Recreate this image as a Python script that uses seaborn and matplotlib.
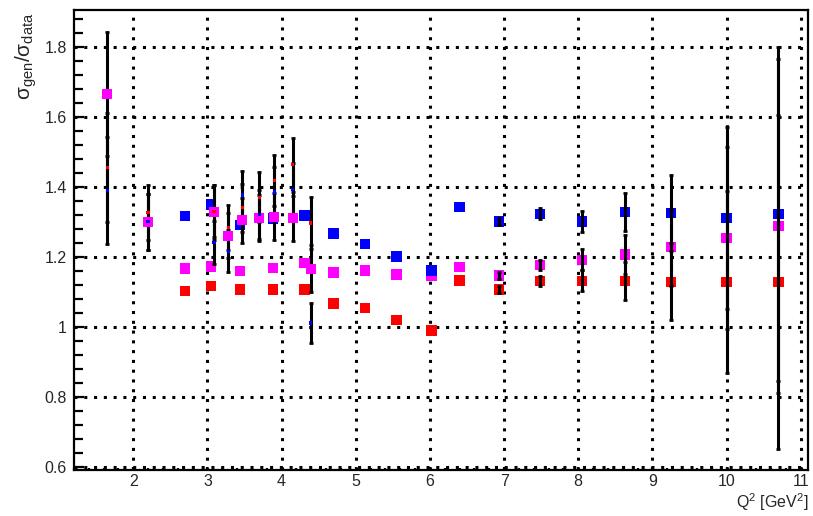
#!/usr/bin/env python3

import matplotlib

matplotlib.use("Agg")
import matplotlib.pyplot as plt
import matplotlib.ticker as ticker
import pandas
import seaborn as sns

# Q2 bins with the three model ratios (large squares)
q2 = [2.70, 3.05, 3.44, 3.88, 4.31, 4.70, 5.12, 5.55, 6.02, 6.40,
      6.93, 7.48, 8.05, 8.63, 9.25, 10.0, 10.70]
ratio_red = [1.103, 1.117, 1.106, 1.106, 1.106, 1.066, 1.053, 1.020, 0.989, 1.132,
             1.106, 1.130, 1.131, 1.130, 1.128, 1.127, 1.127]
ratio_mag = [1.166, 1.172, 1.160, 1.168, 1.183, 1.155, 1.161, 1.149, 1.146, 1.170,
             1.146, 1.177, 1.191, 1.206, 1.227, 1.253, 1.287]
ratio_blue = [1.317, 1.349, 1.291, 1.309, 1.318, 1.266, 1.237, 1.201, 1.161, 1.342,
              1.301, 1.323, 1.301, 1.328, 1.325, 1.310, 1.322]
ratio_err = [0, 0, 0, 0, 0, 0, 0, 0, 0, 0,
             0.010, 0.015, 0.030, 0.055, 0.110, 0.260, 0.478]

# low Q2 points with large errors (small markers)
q2_low = [1.65, 2.20, 3.09, 3.28, 3.47, 3.70, 3.90, 4.15, 4.39]
low_mag = [1.665, 1.298, 1.327, 1.260, 1.304, 1.310, 1.315, 1.310, 1.166]
low_mag_err = [0.178, 0.080, 0.079, 0.065, 0.064, 0.066, 0.066, 0.064, 0.067]
low_red = [1.455, 1.327, 1.330, 1.283, 1.340, 1.370, 1.418, 1.463, 1.296]
low_red_err = [0.157, 0.079, 0.075, 0.064, 0.068, 0.071, 0.073, 0.077, 0.074]
low_blue = [1.390, 1.300, 1.241, 1.215, 1.377, 1.320, 1.385, 1.393, 1.010]
low_blue_err = [0.153, 0.080, 0.062, 0.060, 0.069, 0.070, 0.072, 0.075, 0.057]

colors = {"red": "#ff0000", "magenta": "#ff00ff", "blue": "#0000ff"}


def main():
    sns.set_theme(style="white")
    plt.rcParams["font.family"] = ["Liberation Sans", "DejaVu Sans"]
    plt.rcParams["mathtext.fontset"] = "custom"
    plt.rcParams["mathtext.rm"] = "Liberation Sans"
    plt.rcParams["mathtext.it"] = "Liberation Sans:italic"

    fig = plt.figure(figsize=(8.13, 5.16), dpi=100)
    ax = fig.add_axes([0.091, 0.089, 0.903, 0.892])

    big = pandas.DataFrame({
        "q2": q2 * 3,
        "ratio": ratio_red + ratio_mag + ratio_blue,
        "model": ["red"] * len(q2) + ["magenta"] * len(q2) + ["blue"] * len(q2),
    })
    sns.scatterplot(data=big, x="q2", y="ratio", hue="model", palette=colors,
                    marker="s", s=55, linewidth=0, legend=False, ax=ax, zorder=3)

    # black error bars on top of the squares
    for vals in (ratio_red, ratio_mag, ratio_blue):
        xs = [x for x, e in zip(q2, ratio_err) if e > 0]
        ys = [y for y, e in zip(vals, ratio_err) if e > 0]
        es = [e for e in ratio_err if e > 0]
        ax.errorbar(xs, ys, yerr=es, fmt="none", ecolor="black", elinewidth=2.2,
                    capsize=1.5, capthick=2.0, zorder=4)

    for vals, errs in ((low_red, low_red_err), (low_blue, low_blue_err), (low_mag, low_mag_err)):
        ax.errorbar(q2_low, vals, yerr=errs, fmt="none", ecolor="black",
                    elinewidth=2.2, capsize=1.5, capthick=2.0, zorder=4)

    sns.scatterplot(x=q2_low, y=low_mag, color=colors["magenta"], marker="s",
                    s=60, linewidth=0, ax=ax, zorder=5)
    small = pandas.DataFrame({
        "q2": q2_low * 2,
        "ratio": low_red + low_blue,
        "model": ["red"] * len(q2_low) + ["blue"] * len(q2_low),
    })
    sns.scatterplot(data=small, x="q2", y="ratio", hue="model", palette=colors,
                    marker="s", s=6, linewidth=0, legend=False, ax=ax, zorder=6)

    ax.set_xlim(1.2, 11.1)
    ax.set_ylim(0.59, 1.906)
    ax.xaxis.set_major_locator(ticker.MultipleLocator(1))
    ax.xaxis.set_minor_locator(ticker.MultipleLocator(0.2))
    ax.yaxis.set_major_locator(ticker.MultipleLocator(0.2))
    ax.yaxis.set_minor_locator(ticker.MultipleLocator(0.04))
    ax.xaxis.set_major_formatter(ticker.FormatStrFormatter("%g"))
    ax.yaxis.set_major_formatter(ticker.FormatStrFormatter("%g"))
    ax.set_xlabel("")
    ax.set_ylabel("")

    ax.grid(True, which="major", color="black", linestyle=(0, (1, 2.2)), linewidth=2.2)
    for side in ax.spines.values():
        side.set_color("black")
        side.set_linewidth(1.6)

    ax.tick_params(axis="y", which="both", direction="in", left=True, right=False,
                   width=1.6, color="black", labelsize=11.5, pad=5)
    ax.tick_params(axis="y", which="major", length=7)
    ax.tick_params(axis="y", which="minor", length=6.5)
    ax.tick_params(axis="x", which="both", direction="in", bottom=True, top=False,
                   width=1.6, color="black", labelsize=11.5, pad=3)
    ax.tick_params(axis="x", which="major", length=2)
    ax.tick_params(axis="x", which="minor", length=1.5)

    fig.text(0.032, 0.975, r"$\mathregular{σ_{gen}/σ_{data}}$", rotation=90,
             ha="center", va="top", fontsize=15)
    fig.text(0.994, 0.006, r"Q$^{2}$ [GeV$^{2}$]", ha="right", va="bottom", fontsize=11.5)

    fig.savefig("out.png", dpi=100)


if __name__ == "__main__":
    main()
